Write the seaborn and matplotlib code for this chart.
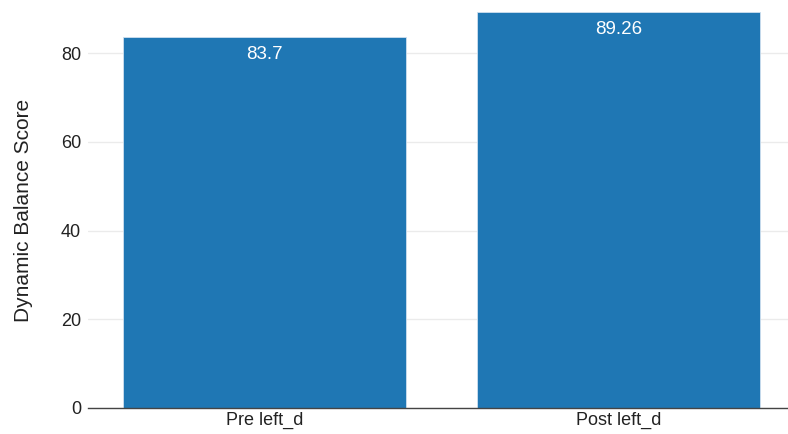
import matplotlib
matplotlib.use("Agg")
import matplotlib.pyplot as plt
import seaborn as sns
import pandas as pd

# Balance scores before and after training (left direction)
categories = ["Pre left_d", "Post left_d"]
scores = [83.7, 89.26]
value_labels = ["83.7", "89.26"]

df = pd.DataFrame({"phase": categories, "score": scores})

sns.set_theme(style="white")
plt.rcParams["font.family"] = ["Liberation Sans", "DejaVu Sans"]

fig = plt.figure(figsize=(7.88, 4.34), dpi=100)
ax = fig.add_axes([88 / 788, 26 / 434, 700 / 788, 396 / 434])

sns.barplot(data=df, x="phase", y="score", color="#1f77b4", saturation=1,
            width=0.8, edgecolor="#cfe0ef", linewidth=0.6, ax=ax, zorder=2)

ax.set_xlim(-0.5, 1.48)
ax.set_ylim(0, 89.26)
ax.set_yticks([0, 20, 40, 60, 80])
ax.yaxis.grid(True, color="#ebebeb", linewidth=1, zorder=0)
ax.set_axisbelow(True)

for s in ["top", "right", "left"]:
    ax.spines[s].set_visible(False)
ax.spines["bottom"].set_color("#444444")
ax.spines["bottom"].set_linewidth(1)

ax.tick_params(axis="y", length=0, labelsize=13, colors="#222222", pad=5)
ax.tick_params(axis="x", length=0, labelsize=13, colors="#222222", pad=3)
ax.set_xlabel("")
ax.set_ylabel("Dynamic Balance Score", fontsize=15, color="#222222", labelpad=20)

for i, (v, lab) in enumerate(zip(scores, value_labels)):
    ax.annotate(lab, xy=(i, v), xytext=(0, -6.5), textcoords="offset points",
                ha="center", va="top", color="white", fontsize=13.5, zorder=3)

fig.savefig("out.png", dpi=100)
